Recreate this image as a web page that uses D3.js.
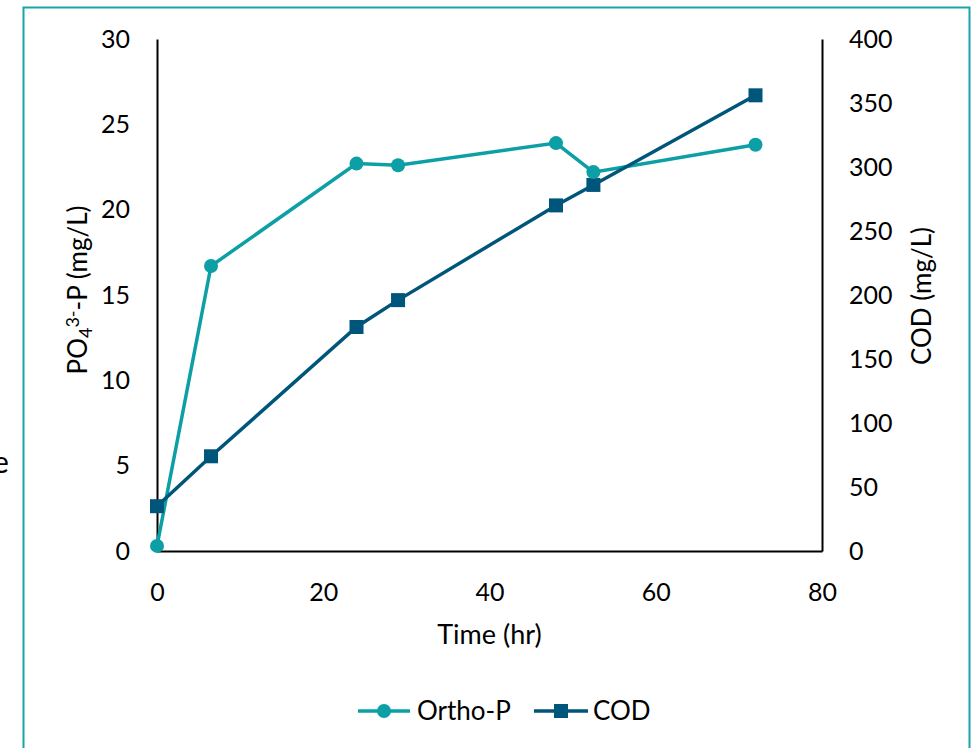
<!DOCTYPE html>
<html lang="en">
<head>
<meta charset="utf-8">
<title>Ortho-P and COD over time</title>
<script src="https://d3js.org/d3.v7.min.js"></script>
<style type="text/css">
body { margin: 0; background: #fff; }
text { font-family: Lato, "Noto Sans", sans-serif; fill: #000; }
</style>
</head>
<body>
<script type="text/javascript">

// data
const times   = [0, 6.5, 24, 29, 48, 52.5, 72];
const orthoP  = [0.3, 16.7, 22.7, 22.6, 23.9, 22.2, 23.8];
const cod     = [35, 74, 175, 196, 270, 286, 356];
const xTicks  = [0, 20, 40, 60, 80];
const yLeftTicks  = [0, 5, 10, 15, 20, 25, 30];
const yRightTicks = [0, 50, 100, 150, 200, 250, 300, 350, 400];

const width = 976, height = 748;
const tealColor = "#0c9fa6";
const navyColor = "#00557a";

const x = d3.scaleLinear().domain([0, 80]).range([157, 822]);
const yL = d3.scaleLinear().domain([0, 30]).range([551, 39]);
const yR = d3.scaleLinear().domain([0, 400]).range([551, 39]);

const svg = d3.select("body").append("svg")
  .attr("width", width)
  .attr("height", height);

// outer frame
svg.append("rect")
  .attr("x", 23.5).attr("y", 7.5)
  .attr("width", 946).attr("height", 760)
  .attr("fill", "none")
  .attr("stroke", "#1aa3aa")
  .attr("stroke-width", 2);

// cut-off text from the neighbouring panel
svg.append("text")
  .attr("x", -7).attr("y", 473)
  .style("font-size", "30px")
  .text("e");

// axes (lines + labels only, no ticks)
const xAxis = svg.append("g")
  .attr("transform", `translate(0,${yL(0)})`)
  .call(d3.axisBottom(x).tickValues(xTicks).tickSize(0).tickPadding(32));
const leftAxis = svg.append("g")
  .attr("transform", `translate(${x(0)},0)`)
  .call(d3.axisLeft(yL).tickValues(yLeftTicks).tickSize(0).tickPadding(27));
const rightAxis = svg.append("g")
  .attr("transform", `translate(${x(80)},0)`)
  .call(d3.axisRight(yR).tickValues(yRightTicks).tickSize(0).tickPadding(27));

[xAxis, leftAxis, rightAxis].forEach(function(g) {
  g.select(".domain").attr("stroke", "#000").attr("stroke-width", 2);
  g.selectAll("text").style("font-size", "25px").attr("fill", "#000");
});
xAxis.selectAll("text").attr("dy", "0.71em");

// axis titles
svg.append("text")
  .attr("x", (x(0) + x(80)) / 2).attr("y", 644)
  .attr("text-anchor", "middle")
  .style("font-size", "27px")
  .text("Time (hr)");

const yTitle = svg.append("text")
  .attr("transform", `translate(87,290) rotate(-90)`)
  .attr("text-anchor", "middle")
  .style("font-size", "26px");
yTitle.append("tspan").text("PO");
yTitle.append("tspan").attr("baseline-shift", "-25%").style("font-size", "18px").text("4");
yTitle.append("tspan").attr("baseline-shift", "45%").style("font-size", "18px").text("3-");
yTitle.append("tspan").text("-P (mg/L)");

svg.append("text")
  .attr("transform", `translate(931,296) rotate(-90)`)
  .attr("text-anchor", "middle")
  .style("font-size", "26px")
  .text("COD (mg/L)");

// series
const orthoData = times.map(function(t, i) { return {t: t, v: orthoP[i]}; });
const codData   = times.map(function(t, i) { return {t: t, v: cod[i]}; });

svg.append("path")
  .datum(orthoData)
  .attr("fill", "none")
  .attr("stroke", tealColor)
  .attr("stroke-width", 3.5)
  .attr("d", d3.line().x(d => x(d.t)).y(d => yL(d.v)));

svg.append("path")
  .datum(codData)
  .attr("fill", "none")
  .attr("stroke", navyColor)
  .attr("stroke-width", 3.5)
  .attr("d", d3.line().x(d => x(d.t)).y(d => yR(d.v)));

svg.append("g").selectAll("rect")
  .data(codData)
  .enter().append("rect")
  .attr("x", d => x(d.t) - 7)
  .attr("y", d => yR(d.v) - 7)
  .attr("width", 14).attr("height", 14)
  .attr("fill", navyColor);

svg.append("g").selectAll("circle")
  .data(orthoData)
  .enter().append("circle")
  .attr("cx", d => x(d.t))
  .attr("cy", d => yL(d.v))
  .attr("r", 7)
  .attr("fill", tealColor);

// legend
const legendY = 711;
const leg = svg.append("g");
leg.append("line").attr("x1", 358).attr("x2", 410).attr("y1", legendY).attr("y2", legendY)
  .attr("stroke", tealColor).attr("stroke-width", 3.5);
leg.append("circle").attr("cx", 384).attr("cy", legendY).attr("r", 7).attr("fill", tealColor);
leg.append("text").attr("x", 417).attr("y", legendY).attr("dy", "0.35em")
  .style("font-size", "26px").text("Ortho-P");

leg.append("line").attr("x1", 534).attr("x2", 588).attr("y1", legendY).attr("y2", legendY)
  .attr("stroke", navyColor).attr("stroke-width", 3.5);
leg.append("rect").attr("x", 554).attr("y", legendY - 7).attr("width", 14).attr("height", 14)
  .attr("fill", navyColor);
leg.append("text").attr("x", 593).attr("y", legendY).attr("dy", "0.35em")
  .style("font-size", "26px").text("COD");

</script>
</body>
</html>
